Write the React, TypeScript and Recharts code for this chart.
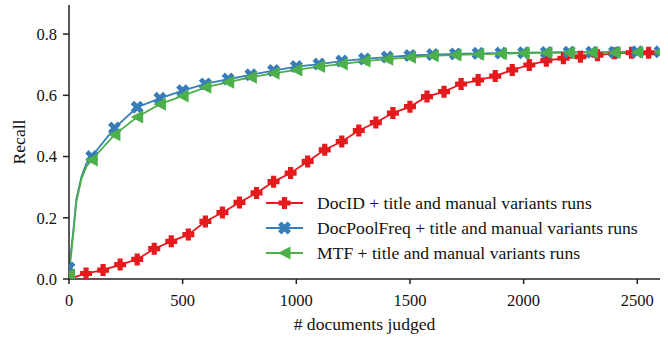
import React from "react";
import { Line, LineChart, XAxis, YAxis } from "recharts";

// # documents judged
const docIdX = [0, 75, 150, 225, 300, 375, 450, 525, 600, 675, 750, 825, 900, 975, 1050, 1125, 1200, 1275, 1350, 1425, 1500, 1575, 1650, 1725, 1800, 1875, 1950, 2025, 2100, 2175, 2250, 2325, 2400, 2475, 2550, 2600];
const docIdRecall = [0, 0.018, 0.029, 0.047, 0.064, 0.099, 0.123, 0.145, 0.188, 0.217, 0.25, 0.281, 0.318, 0.346, 0.384, 0.422, 0.449, 0.485, 0.511, 0.542, 0.563, 0.596, 0.612, 0.637, 0.65, 0.663, 0.683, 0.699, 0.713, 0.721, 0.726, 0.731, 0.737, 0.739, 0.739, 0.74];

const poolX = [0, 18, 32, 55, 77, 100, 200, 300, 400, 500, 600, 700, 800, 900, 1000, 1100, 1200, 1300, 1400, 1500, 1600, 1700, 1800, 1900, 2000, 2100, 2200, 2300, 2400, 2500, 2600];
const docPoolRecall = [0.036, 0.15, 0.26, 0.335, 0.378, 0.4, 0.493, 0.561, 0.59, 0.615, 0.637, 0.653, 0.667, 0.681, 0.694, 0.702, 0.712, 0.719, 0.725, 0.73, 0.733, 0.735, 0.737, 0.738, 0.739, 0.74, 0.741, 0.741, 0.741, 0.742, 0.742];
const mtfRecall = [0.014, 0.14, 0.25, 0.328, 0.368, 0.389, 0.471, 0.529, 0.571, 0.598, 0.626, 0.643, 0.659, 0.672, 0.683, 0.694, 0.702, 0.712, 0.718, 0.724, 0.729, 0.732, 0.734, 0.736, 0.738, 0.739, 0.739, 0.74, 0.74, 0.741, 0.741];

const xTicks = [0, 500, 1000, 1500, 2000, 2500];
const yTicks = [0, 0.2, 0.4, 0.6, 0.8];

const RED = "#e41a1c";
const BLUE = "#377eb8";
const GREEN = "#4daf4a";
const FONT = "'Liberation Serif', 'Times New Roman', serif";

const toRows = (xs: number[], ys: number[]) => xs.map((x, i) => ({ x, y: ys[i] }));

const plusPath = (cx: number, cy: number, h: number, t: number) =>
  `M${cx - t},${cy - h}H${cx + t}V${cy - t}H${cx + h}V${cy + t}H${cx + t}V${cy + h}H${cx - t}V${cy + t}H${cx - h}V${cy - t}H${cx - t}Z`;

const Marker = ({ kind, cx, cy, color }: { kind: string; cx: number; cy: number; color: string }) => {
  if (kind === "plus") return <path d={plusPath(cx, cy, 6, 2.6)} fill={color} />;
  if (kind === "x") return <path d={plusPath(cx, cy, 6.8, 2.4)} fill={color} transform={`rotate(45 ${cx} ${cy})`} />;
  return <path d={`M${cx - 6.5},${cy}L${cx + 6},${cy - 6.5}L${cx + 6},${cy + 6.5}Z`} fill={color} />;
};

const makeDot = (kind: string, color: string, every: number) => (props: any) => {
  const { cx, cy, payload, index } = props;
  const key = `${kind}-${index}`;
  if (payload.x % every !== 0 || (kind === "plus" && payload.x === 0)) return <g key={key} />;
  return (
    <g key={key}>
      <Marker kind={kind} cx={cx} cy={cy} color={color} />
    </g>
  );
};

const series = [
  { name: "DocID + title and manual variants runs", color: RED, kind: "plus" },
  { name: "DocPoolFreq + title and manual variants runs", color: BLUE, kind: "x" },
  { name: "MTF + title and manual variants runs", color: GREEN, kind: "tri" },
];

const LegendBox = () => (
  <svg width={400} height={80} style={{ position: "absolute", left: 265, top: 190 }}>
    {series.map((s, i) => {
      const y = 13 + i * 25;
      return (
        <g key={s.name}>
          <line x1={1} x2={38} y1={y} y2={y} stroke={s.color} strokeWidth={2} />
          <Marker kind={s.kind} cx={19.5} cy={y} color={s.color} />
          <text x={52} y={y} dy="0.35em" fontSize={17.6} fontFamily={FONT} fill="#111">
            {s.name}
          </text>
        </g>
      );
    })}
  </svg>
);

export default function App() {
  const axisColor = "#222";
  const tick = { fontSize: 16.5, fill: "#111" };
  return (
    <div style={{ position: "absolute", left: 0, top: 0, width: 668, height: 337, background: "#fff", fontFamily: FONT }}>
      <LineChart width={668} height={337} margin={{ top: 5, right: 8, left: 0, bottom: 0 }} style={{ fontFamily: FONT }}>
        <XAxis
          type="number"
          dataKey="x"
          domain={[0, 2600]}
          ticks={xTicks}
          allowDataOverflow
          height={58}
          stroke={axisColor}
          strokeWidth={1.5}
          tickSize={5}
          tickMargin={10}
          tick={tick}
          label={{ value: "# documents judged", position: "insideBottom", offset: 7, style: { fontSize: 17.6, fill: "#111", fontFamily: FONT } }}
        />
        <YAxis
          type="number"
          dataKey="y"
          domain={[0, 0.895]}
          ticks={yTicks}
          allowDataOverflow
          width={69}
          stroke={axisColor}
          strokeWidth={1.5}
          tickSize={6}
          tickMargin={6}
          tick={tick}
          tickFormatter={(v: number) => v.toFixed(1)}
          label={{ value: "Recall", angle: -90, position: "insideLeft", offset: 18.5, style: { fontSize: 17.6, fill: "#111", fontFamily: FONT, textAnchor: "middle" } }}
        />
        <Line data={toRows(docIdX, docIdRecall)} dataKey="y" name={series[0].name} type="linear" stroke={RED} strokeWidth={1.8} dot={makeDot("plus", RED, 75)} activeDot={false} isAnimationActive={false} />
        <Line data={toRows(poolX, docPoolRecall)} dataKey="y" name={series[1].name} type="linear" stroke={BLUE} strokeWidth={1.8} dot={makeDot("x", BLUE, 100)} activeDot={false} isAnimationActive={false} />
        <Line data={toRows(poolX, mtfRecall)} dataKey="y" name={series[2].name} type="linear" stroke={GREEN} strokeWidth={1.8} dot={makeDot("tri", GREEN, 100)} activeDot={false} isAnimationActive={false} />
      </LineChart>
      <LegendBox />
    </div>
  );
}
